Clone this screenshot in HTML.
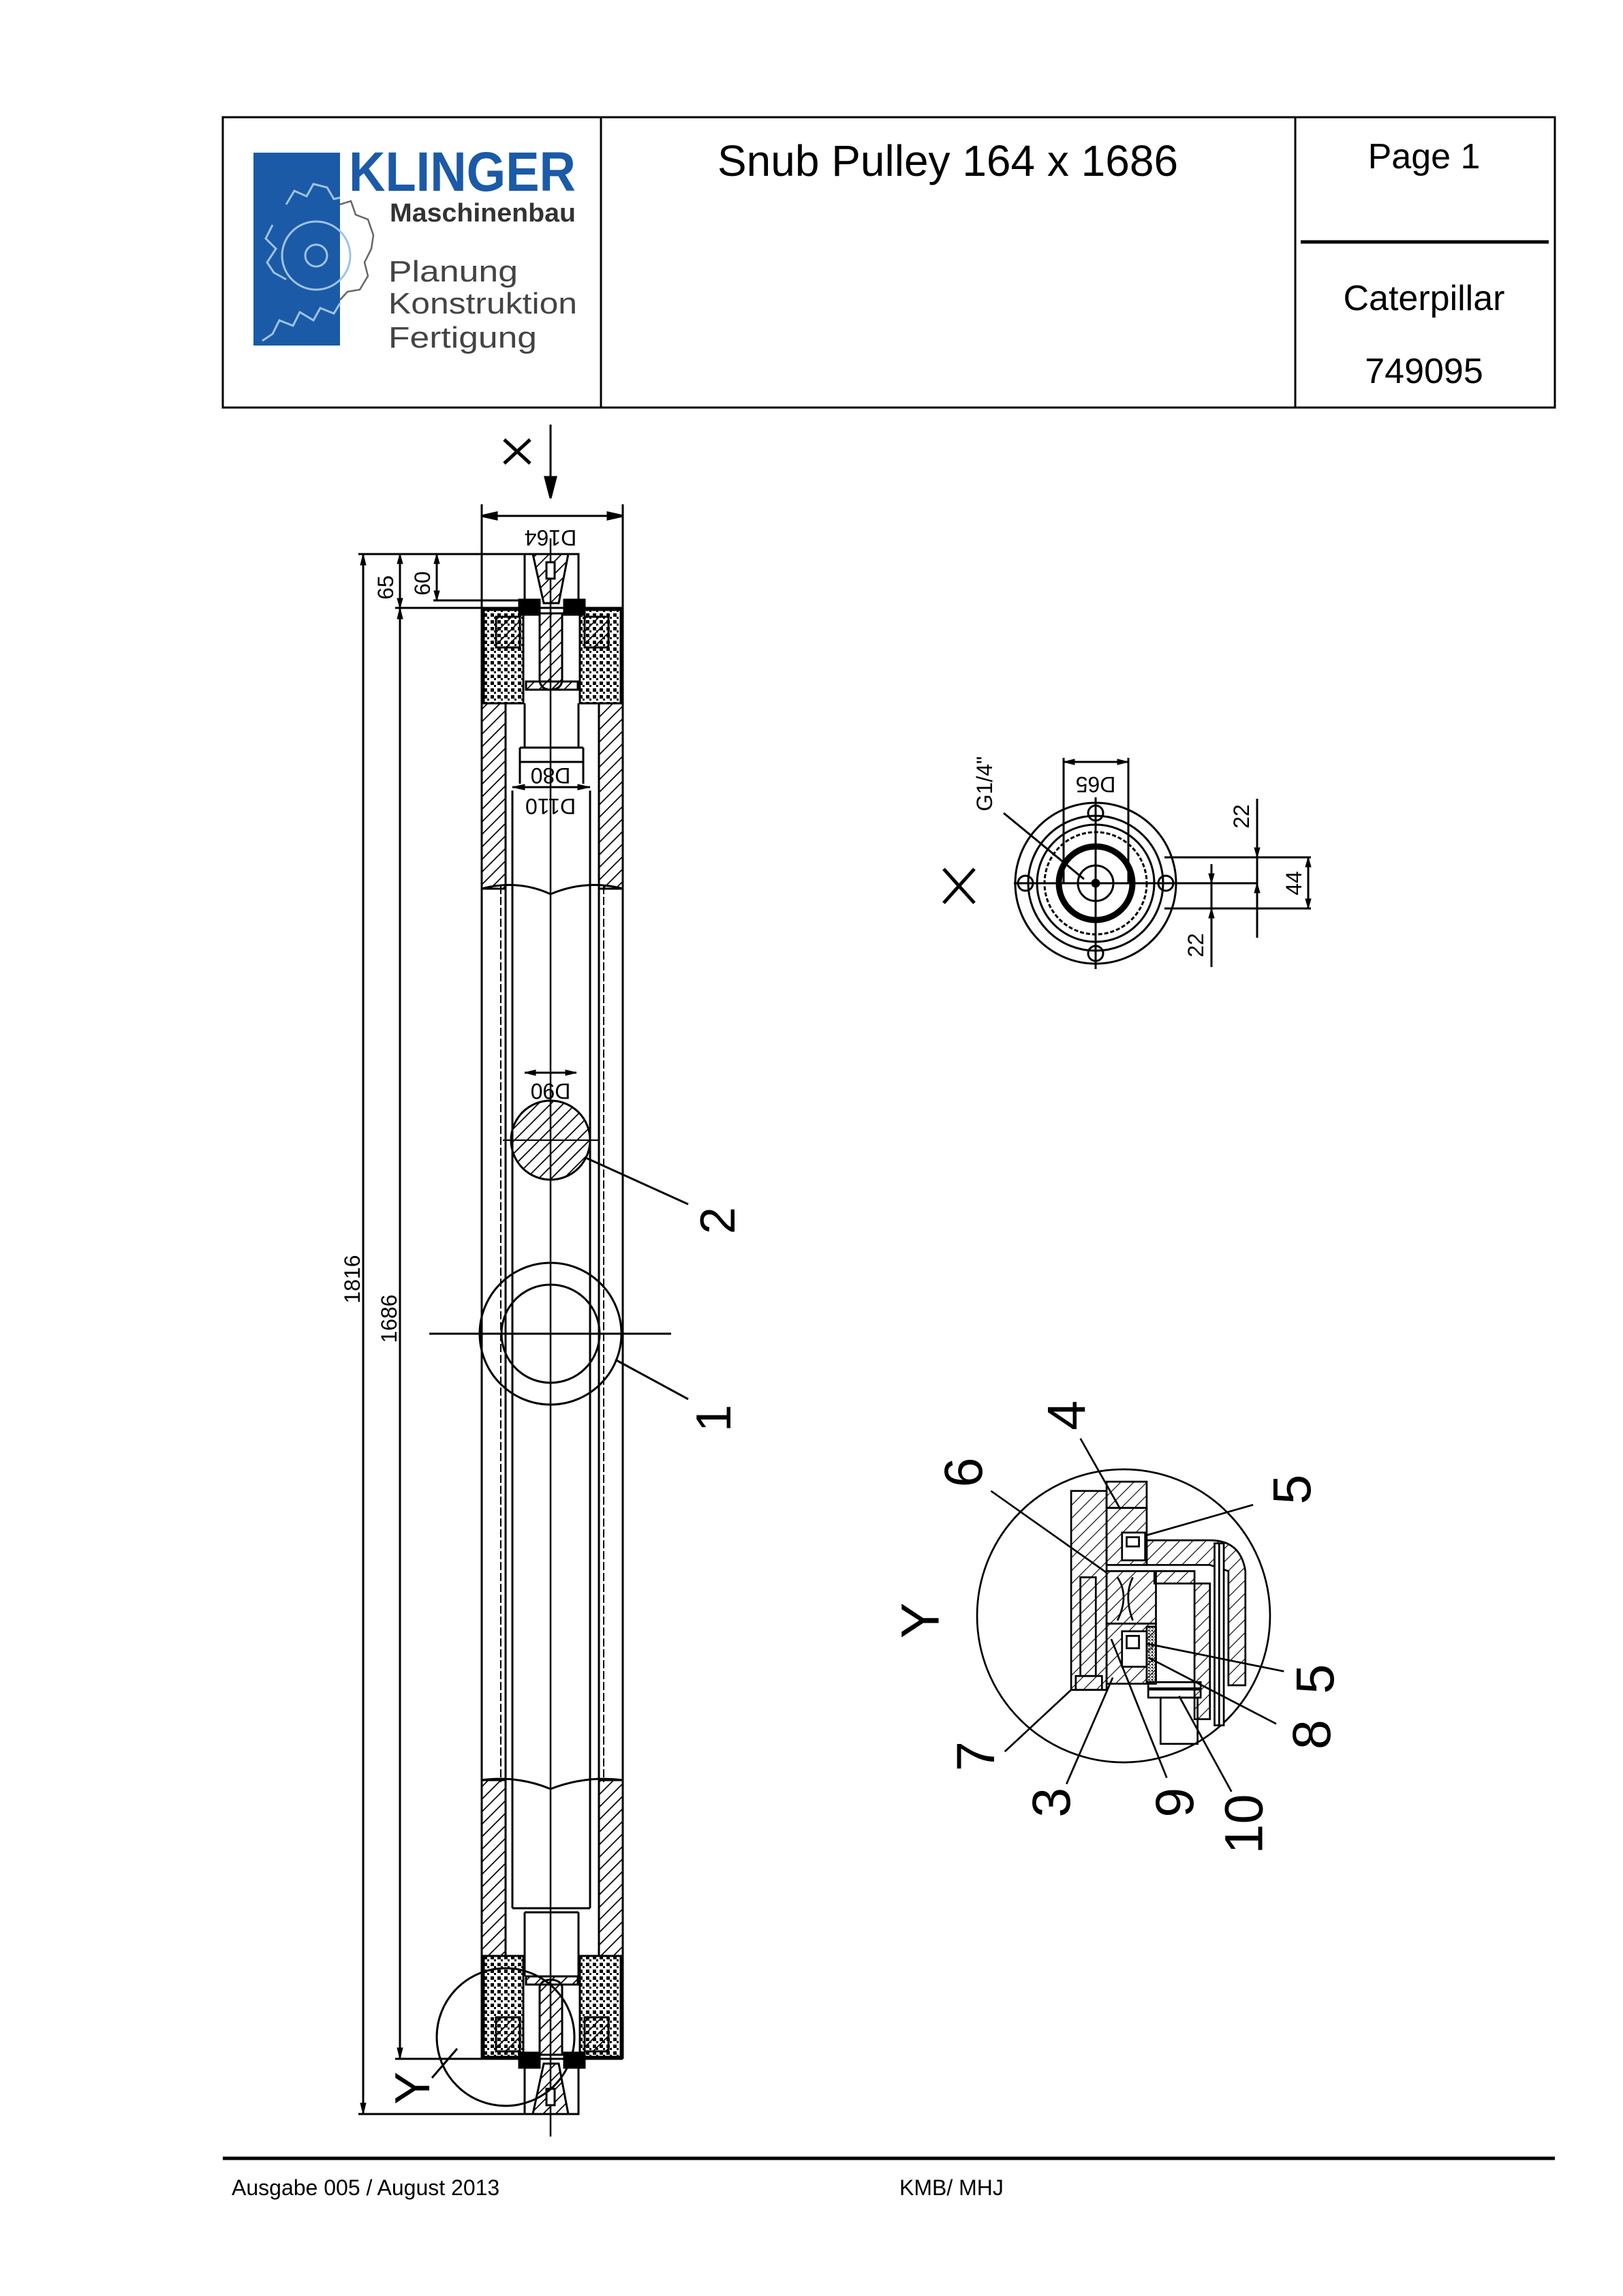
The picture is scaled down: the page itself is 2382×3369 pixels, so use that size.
<!DOCTYPE html>
<html><head><meta charset="utf-8"><style>
html,body{margin:0;padding:0;background:#fff}
svg{display:block}
text{font-family:"Liberation Sans",Arial,sans-serif}
</style></head><body>
<svg width="2382" height="3369" viewBox="0 0 2382 3369" xmlns="http://www.w3.org/2000/svg">
<defs>
<pattern id="h" patternUnits="userSpaceOnUse" width="13" height="13" patternTransform="rotate(45)">
<line x1="0" y1="0" x2="0" y2="13" stroke="#000" stroke-width="3.5"/></pattern>
<pattern id="hz" patternUnits="userSpaceOnUse" width="30" height="30" patternTransform="rotate(45)">
<line x1="0" y1="0" x2="0" y2="30" stroke="#000" stroke-width="5"/></pattern>
<pattern id="x" patternUnits="userSpaceOnUse" width="10" height="10">
<rect x="0" y="0" width="5" height="5" fill="#000"/><rect x="5" y="5" width="3" height="3" fill="#000"/></pattern>
</defs>

<!-- Header -->
<rect x="327" y="172" width="1955" height="426" fill="none" stroke="#000" stroke-width="3"/>
<line x1="882" y1="172" x2="882" y2="598" stroke="#000" stroke-width="3"/>
<line x1="1901" y1="172" x2="1901" y2="598" stroke="#000" stroke-width="3"/>
<line x1="1909" y1="355" x2="2273" y2="355" stroke="#000" stroke-width="5"/>
<text x="1391" y="258" font-size="64" text-anchor="middle">Snub Pulley 164 x 1686</text>
<text x="2090" y="247" font-size="52" text-anchor="middle">Page 1</text>
<text x="2090" y="455" font-size="52" text-anchor="middle">Caterpillar</text>
<text x="2090" y="562" font-size="52" text-anchor="middle">749095</text>

<!-- Logo -->
<rect x="372" y="224" width="127" height="283" fill="#1b5aa7"/>
<g fill="none" stroke="#9fc3e8" stroke-width="3">
<circle cx="464" cy="375" r="50"/><circle cx="464" cy="375" r="16"/>
<path d="M385,500 L400,490 L410,470 L430,478 L440,458 L460,470 L470,452 L490,460 L499,445"/>
<path d="M420,300 L432,280 L450,288 L460,270 L480,275 L490,292 L499,290"/>
<path d="M400,330 L390,350 L405,365 L392,385 L402,400 L420,410"/>
</g>
<g fill="none" stroke="#666" stroke-width="2.5">
<path d="M499,300 L515,295 L522,315 L540,322 L548,345 L545,365 L535,385 L540,405 L528,425 L510,428 L499,440"/>
</g>
<text x="512" y="280" font-size="82" font-weight="bold" fill="#1b5aa7" textLength="333" lengthAdjust="spacingAndGlyphs">KLINGER</text>
<text x="572" y="325" font-size="38" font-weight="bold" fill="#333" textLength="273" lengthAdjust="spacingAndGlyphs">Maschinenbau</text>
<text x="570" y="413" font-size="44" fill="#444" textLength="190" lengthAdjust="spacingAndGlyphs">Planung</text>
<text x="570" y="460" font-size="44" fill="#444" textLength="277" lengthAdjust="spacingAndGlyphs">Konstruktion</text>
<text x="570" y="510" font-size="44" fill="#444" textLength="218" lengthAdjust="spacingAndGlyphs">Fertigung</text>

<!-- Main pulley -->
<g stroke="#000" fill="none" stroke-width="3">
<line x1="808" y1="623" x2="808" y2="700"/>
<path d="M800,700 L816,700 L808,731 Z" fill="#000"/>
<path d="M740,645 L778,680 M778,645 L740,680" stroke-width="5"/>
<line x1="707" y1="757" x2="914" y2="757"/>
<path d="M707,757 l22,-5 v10 Z M914,757 l-22,-5 v10 Z" fill="#000"/>
<line x1="707" y1="740" x2="707" y2="3021"/>
<line x1="914" y1="740" x2="914" y2="3021"/>
<line x1="707" y1="892" x2="914" y2="892"/>
<line x1="707" y1="3021" x2="914" y2="3021"/>
<rect x="707" y="1032" width="35" height="272" fill="url(#h)"/>
<rect x="879" y="1032" width="35" height="272" fill="url(#h)"/>
<rect x="707" y="2612" width="35" height="258" fill="url(#h)"/>
<rect x="879" y="2612" width="35" height="258" fill="url(#h)"/>
<line x1="742" y1="1032" x2="742" y2="2870"/>
<line x1="879" y1="1032" x2="879" y2="2870"/>
<line x1="735" y1="1300" x2="735" y2="2615" stroke-dasharray="12,4" stroke-width="2"/>
<line x1="886" y1="1300" x2="886" y2="2615" stroke-dasharray="12,4" stroke-width="2"/>
<path d="M707,1304 Q760,1290 808,1312 Q860,1290 914,1304"/>
<path d="M707,2612 Q760,2605 808,2625 Q860,2605 914,2612"/>
<line x1="752" y1="1160" x2="752" y2="2800"/>
<line x1="866" y1="1160" x2="866" y2="2800"/>
<line x1="763" y1="1097" x2="856" y2="1097"/>
<line x1="763" y1="1097" x2="763" y2="1150"/><line x1="856" y1="1097" x2="856" y2="1150"/>
<line x1="770" y1="1032" x2="770" y2="1097"/><line x1="849" y1="1032" x2="849" y2="1097"/>
<line x1="752" y1="2800" x2="866" y2="2800"/>
<line x1="770" y1="2806" x2="849" y2="2806"/>
<line x1="770" y1="2806" x2="770" y2="2900"/><line x1="849" y1="2806" x2="849" y2="2900"/>
<line x1="763" y1="1118" x2="856" y2="1118"/>
<line x1="752" y1="1155" x2="866" y2="1155"/>
<path d="M752,1155 l18,-4 v8 Z M866,1155 l-18,-4 v8 Z" fill="#000" stroke-width="1"/>
<line x1="770" y1="1574" x2="846" y2="1574"/>
<path d="M770,1574 l16,-4 v8 Z M846,1574 l-16,-4 v8 Z" fill="#000" stroke-width="1"/>
<circle cx="808" cy="1673" r="58" fill="url(#h)"/>
<line x1="738" y1="1673" x2="878" y2="1673" stroke-width="2"/>
<circle cx="808" cy="1957" r="104"/>
<circle cx="808" cy="1957" r="72"/>
<line x1="630" y1="1957" x2="985" y2="1957"/>
<line x1="808" y1="790" x2="808" y2="3135" stroke-width="2.5"/>
<line x1="860" y1="1699" x2="1010" y2="1767"/>
<line x1="903" y1="1995" x2="1010" y2="2053"/>
<rect x="770" y="813" width="79" height="79"/>
<path d="M782,813 L834,813 L820,885 L798,885 Z" fill="url(#h)"/>
<rect x="802" y="825" width="12" height="24" fill="#fff"/>
<rect x="762" y="880" width="30" height="22" fill="#000"/>
<rect x="828" y="880" width="30" height="22" fill="#000"/>
<rect x="710" y="895" width="58" height="137" fill="url(#x)"/>
<rect x="851" y="895" width="60" height="137" fill="url(#x)"/>
<rect x="728" y="905" width="35" height="45" fill="url(#h)"/>
<rect x="858" y="905" width="35" height="45" fill="url(#h)"/>
<path d="M792,900 L792,1000 Q795,1012 808,1012 Q822,1012 825,1000 L825,900 Z" fill="url(#h)"/>
<rect x="772" y="1000" width="76" height="12" fill="url(#h)"/>
<rect x="770" y="3021" width="79" height="81"/>
<path d="M782,3102 L834,3102 L820,3028 L798,3028 Z" fill="url(#h)"/>
<rect x="802" y="3065" width="12" height="24" fill="#fff"/>
<rect x="762" y="3012" width="30" height="22" fill="#000"/>
<rect x="828" y="3012" width="30" height="22" fill="#000"/>
<rect x="710" y="2870" width="58" height="148" fill="url(#x)"/>
<rect x="851" y="2870" width="60" height="148" fill="url(#x)"/>
<rect x="728" y="2960" width="35" height="50" fill="url(#h)"/>
<rect x="858" y="2960" width="35" height="50" fill="url(#h)"/>
<path d="M792,3015 L792,2915 Q795,2905 808,2905 Q822,2905 825,2915 L825,3015 Z" fill="url(#h)"/>
<rect x="772" y="2900" width="76" height="12" fill="url(#h)"/>
<circle cx="742" cy="2989" r="101"/>
<line x1="634" y1="3049" x2="671" y2="3006"/>
<line x1="533" y1="813" x2="533" y2="3102"/>
<line x1="587" y1="892" x2="587" y2="3021"/>
<line x1="587" y1="813" x2="587" y2="892"/>
<line x1="641" y1="813" x2="641" y2="881"/>
<line x1="526" y1="813" x2="849" y2="813"/>
<line x1="526" y1="3102" x2="849" y2="3102"/>
<line x1="580" y1="892" x2="707" y2="892"/>
<line x1="580" y1="3021" x2="707" y2="3021"/>
<line x1="636" y1="881" x2="770" y2="881"/>
<path d="M533,813 l-4,16 h8 Z M533,3102 l-4,-16 h8 Z M587,892 l-4,16 h8 Z M587,3021 l-4,-16 h8 Z M587,813 l-4,14 h8 Z M587,892 l-4,-14 h8 Z M641,813 l-4,14 h8 Z M641,881 l-4,-14 h8 Z" fill="#000" stroke-width="1"/>
</g>
<g font-size="32">
<text transform="translate(528,1877) rotate(-90)" text-anchor="middle">1816</text>
<text transform="translate(582,1935) rotate(-90)" text-anchor="middle">1686</text>
<text transform="translate(577,862) rotate(-90)" text-anchor="middle">65</text>
<text transform="translate(631,856) rotate(-90)" text-anchor="middle">60</text>
<text transform="translate(808,778) rotate(180)" text-anchor="middle">D164</text>
<text transform="translate(808,1127) rotate(180)" text-anchor="middle">D80</text>
<text transform="translate(808,1172) rotate(180)" text-anchor="middle">D110</text>
<text transform="translate(808,1590) rotate(180)" text-anchor="middle">D90</text>
</g>
<g font-size="72">
<text transform="translate(1078,1791) rotate(-90)" text-anchor="middle">2</text>
<text transform="translate(1072,2081) rotate(-90)" text-anchor="middle">1</text>
<text transform="translate(630,3064) rotate(-90)" text-anchor="middle">Y</text>
</g>

<!-- X view -->
<g stroke="#000" fill="none" stroke-width="3">
<circle cx="1608" cy="1296" r="118"/>
<circle cx="1608" cy="1296" r="99"/>
<circle cx="1608" cy="1296" r="86"/>
<circle cx="1608" cy="1296" r="75" stroke-dasharray="6,3"/>
<circle cx="1608" cy="1296" r="54" stroke-width="9"/>
<circle cx="1608" cy="1296" r="26"/>
<circle cx="1608" cy="1296" r="5" fill="#000"/>
<circle cx="1505" cy="1296" r="11"/><circle cx="1711" cy="1296" r="11"/>
<circle cx="1608" cy="1193" r="11"/><circle cx="1608" cy="1399" r="11"/>
<line x1="1488" y1="1296" x2="1845" y2="1296"/>
<line x1="1608" y1="1170" x2="1608" y2="1422"/>
<path d="M1385,1275 L1430,1325 M1430,1275 L1385,1325" stroke-width="5"/>
<line x1="1561" y1="1112" x2="1561" y2="1296"/>
<line x1="1656" y1="1112" x2="1656" y2="1296"/>
<line x1="1561" y1="1118" x2="1656" y2="1118"/>
<path d="M1561,1118 l16,-4 v8 Z M1656,1118 l-16,-4 v8 Z" fill="#000" stroke-width="1"/>
<line x1="1473" y1="1193" x2="1591" y2="1290"/>
<line x1="1709" y1="1258" x2="1924" y2="1258"/>
<line x1="1709" y1="1333" x2="1924" y2="1333"/>
<line x1="1778" y1="1268" x2="1778" y2="1419"/>
<line x1="1845" y1="1172" x2="1845" y2="1376"/>
<line x1="1920" y1="1258" x2="1920" y2="1333"/>
<path d="M1778,1296 l-4,-14 h8 Z M1778,1333 l-4,14 h8 Z M1845,1258 l-4,-14 h8 Z M1845,1296 l-4,14 h8 Z M1920,1258 l-4,14 h8 Z M1920,1333 l-4,-14 h8 Z" fill="#000" stroke-width="1"/>
</g>
<g font-size="32">
<text transform="translate(1608,1140) rotate(180)" text-anchor="middle">D65</text>
<text transform="translate(1456,1150) rotate(-90)" text-anchor="middle">G1/4"</text>
<text transform="translate(1766,1387) rotate(-90)" text-anchor="middle">22</text>
<text transform="translate(1833,1198) rotate(-90)" text-anchor="middle">22</text>
<text transform="translate(1910,1296) rotate(-90)" text-anchor="middle">44</text>
</g>

<!-- Y detail -->
<g transform="translate(1649,2371) scale(0.4526) translate(-780,-725)">
<g stroke="#000" fill="none" stroke-width="6">
<circle cx="780" cy="725" r="475"/>
<path d="M610,320 L725,320 L725,965 L610,965 Z" fill="url(#hz)"/>
<path d="M725,290 L855,290 L855,375 L725,375 Z" fill="url(#hz)"/>
<rect x="725" y="375" width="130" height="185" fill="url(#hz)"/>
<rect x="775" y="455" width="75" height="90" fill="#fff"/>
<rect x="790" y="470" width="40" height="30" fill="#fff"/>
<path d="M855,480 L1060,480 Q1160,480 1175,580 L1175,950 L1120,950 L1120,580 L1060,560 L855,560 Z" fill="url(#hz)"/>
<path d="M1010,620 L1060,620 L1060,1060 L1010,1060 Z" fill="url(#hz)"/>
<path d="M880,580 L1010,580 L1010,620 L880,620 Z" fill="url(#hz)"/>
<rect x="1075" y="490" width="30" height="590" fill="#fff"/>
<line x1="1090" y1="490" x2="1090" y2="1080"/>
<rect x="725" y="580" width="160" height="170" fill="url(#hz)"/>
<path d="M760,600 Q800,660 760,740 M810,600 Q780,660 810,740" />
<rect x="725" y="750" width="160" height="195" fill="url(#hz)"/>
<rect x="775" y="775" width="80" height="115" fill="#fff"/>
<rect x="790" y="790" width="40" height="40" fill="#fff"/>
<rect x="855" y="760" width="30" height="180" fill="url(#x)"/>
<rect x="640" y="600" width="50" height="320"/>
<rect x="625" y="920" width="85" height="45"/>
<rect x="860" y="940" width="170" height="50"/>
<line x1="860" y1="962" x2="1030" y2="962" stroke-width="10"/>
<rect x="900" y="990" width="120" height="150"/>
<line x1="350" y1="320" x2="725" y2="585"/>
<line x1="640" y1="150" x2="770" y2="380"/>
<line x1="1200" y1="365" x2="850" y2="465"/>
<line x1="1300" y1="905" x2="855" y2="815"/>
<line x1="1275" y1="1075" x2="860" y2="860"/>
<line x1="395" y1="1165" x2="610" y2="965"/>
<line x1="595" y1="1270" x2="745" y2="925"/>
<line x1="920" y1="1250" x2="740" y2="800"/>
<line x1="1130" y1="1295" x2="960" y2="985"/>
</g>
<g font-size="175">
<text transform="translate(180,740) rotate(-90)" text-anchor="middle">Y</text>
<text transform="translate(655,75) rotate(-90)" text-anchor="middle">4</text>
<text transform="translate(320,260) rotate(-90)" text-anchor="middle">6</text>
<text transform="translate(1385,315) rotate(-90)" text-anchor="middle">5</text>
<text transform="translate(1460,930) rotate(-90)" text-anchor="middle">5</text>
<text transform="translate(1450,1110) rotate(-90)" text-anchor="middle">8</text>
<text transform="translate(360,1180) rotate(-90)" text-anchor="middle">7</text>
<text transform="translate(605,1330) rotate(-90)" text-anchor="middle">3</text>
<text transform="translate(1005,1330) rotate(-90)" text-anchor="middle">9</text>
<text transform="translate(1230,1400) rotate(-90)" text-anchor="middle">10</text>
</g>
</g>

<!-- Footer -->
<line x1="327" y1="3167" x2="2282" y2="3167" stroke="#000" stroke-width="5"/>
<text x="340" y="3221" font-size="32">Ausgabe 005 / August 2013</text>
<text x="1320" y="3221" font-size="32">KMB/ MHJ</text>
</svg>
</body></html>
